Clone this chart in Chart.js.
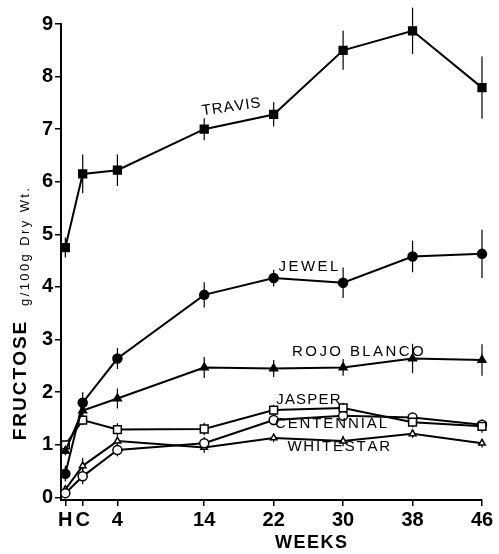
<!DOCTYPE html>
<html>
<head>
<meta charset="utf-8">
<script src="https://cdn.jsdelivr.net/npm/chart.js@4.4.1/dist/chart.umd.min.js"></script>
<style>
  html, body { margin: 0; padding: 0; background: #fff; }
</style>
</head>
<body>
<canvas id="fructose-chart" width="499" height="554"></canvas>
<script>
// sampling times: H = harvest, C = after curing, then weeks of storage
const weeks = [-2, 0, 4, 14, 22, 30, 38, 46];
const weekLabels = ['H', 'C', '4', '14', '22', '30', '38', '46'];
const yTicks = [0, 1, 2, 3, 4, 5, 6, 7, 8, 9];

const cultivars = ['TRAVIS', 'JEWEL', 'ROJO BLANCO', 'JASPER', 'CENTENNIAL', 'WHITESTAR'];

const travis = [4.75, 6.15, 6.22, 7.0, 7.28, 8.5, 8.87, 7.79];
const travisErr = [0.19, 0.37, 0.3, 0.21, 0.23, 0.37, 0.44, 0.59];

const jewel = [0.45, 1.8, 2.64, 3.85, 4.17, 4.08, 4.58, 4.63];
const jewelErr = [0.15, 0.2, 0.2, 0.24, 0.16, 0.29, 0.3, 0.46];

const rojoBlanco = [0.88, 1.65, 1.88, 2.47, 2.45, 2.47, 2.64, 2.61];
const rojoBlancoErr = [0.08, 0.15, 0.19, 0.2, 0.16, 0.16, 0.28, 0.3];

const jasper = [1.0, 1.47, 1.29, 1.3, 1.66, 1.7, 1.43, 1.35];
const jasperErr = [0.05, 0.1, 0.12, 0.12, 0.1, 0.1, 0.1, 0.12];

const centennial = [0.08, 0.4, 0.9, 1.03, 1.47, 1.55, 1.52, 1.38];
const centennialErr = [0.05, 0.15, 0.12, 0.12, 0.1, 0.1, 0.08, 0.1];

const whitestar = [0.15, 0.6, 1.07, 0.95, 1.13, 1.07, 1.21, 1.03];
const whitestarErr = [0.05, 0.15, 0.1, 0.1, 0.08, 0.1, 0.08, 0.08];

const seriesValues = [travis, jewel, rojoBlanco, jasper, centennial, whitestar];
const seriesErrors = [travisErr, jewelErr, rojoBlancoErr, jasperErr, centennialErr, whitestarErr];

// marker look per cultivar (filled vs open)
const markerStyles = [
    { pointStyle: 'rect', radius: 5.5, fill: '#000' },
    { pointStyle: 'circle', radius: 4.5, fill: '#000' },
    { pointStyle: 'triangle', radius: 4.5, fill: '#000' },
    { pointStyle: 'rect', radius: 5.5, fill: '#fff' },
    { pointStyle: 'circle', radius: 4.5, fill: '#fff' },
    { pointStyle: 'triangle', radius: 3.8, fill: '#fff' },
];

// where each curve name sits, in chart units (week, g/100g), plus letter spacing and tilt
const nameLabels = [
    { week: 17.1, value: 7.42, spacing: 1, angle: -8 },
    { week: 26.0, value: 4.38, spacing: 2.5, angle: 0 },
    { week: 31.7, value: 2.76, spacing: 2.4, angle: 0 },
    { week: 26.0, value: 1.85, spacing: 1.2, angle: 0 },
    { week: 28.6, value: 1.40, spacing: 1.9, angle: 0 },
    { week: 29.5, value: 0.96, spacing: 1.8, angle: 0 },
];

function drawSpaced(ctx, text, cx, cy, spacing) {
    const widths = [...text].map(ch => ctx.measureText(ch).width);
    const total = widths.reduce((a, b) => a + b, 0) + spacing * (text.length - 1);
    let x = cx - total / 2;
    ctx.textAlign = 'left';
    ctx.textBaseline = 'middle';
    [...text].forEach((ch, i) => {
        ctx.fillText(ch, x, cy);
        x += widths[i] + spacing;
    });
}

// vertical error bars, drawn under the markers
const errorBars = {
    id: 'errorBars',
    beforeDatasetsDraw(chart) {
        const ctx = chart.ctx;
        const xs = chart.scales.x;
        const ys = chart.scales.y;
        ctx.save();
        ctx.strokeStyle = '#000';
        ctx.lineWidth = 1.2;
        seriesValues.forEach((vals, s) => {
            vals.forEach((v, i) => {
                const e = seriesErrors[s][i];
                const px = xs.getPixelForValue(weeks[i]);
                ctx.beginPath();
                ctx.moveTo(px, ys.getPixelForValue(v - e));
                ctx.lineTo(px, ys.getPixelForValue(v + e));
                ctx.stroke();
            });
        });
        ctx.restore();
    }
};

// curve names and axis titles
const annotations = {
    id: 'annotations',
    afterDatasetsDraw(chart) {
        const ctx = chart.ctx;
        const xs = chart.scales.x;
        const ys = chart.scales.y;
        ctx.save();
        ctx.fillStyle = '#000';
        ctx.font = '15px "Liberation Sans", Arial, sans-serif';
        cultivars.forEach((name, i) => {
            const lab = nameLabels[i];
            const cx = xs.getPixelForValue(lab.week);
            const cy = ys.getPixelForValue(lab.value);
            ctx.save();
            ctx.translate(cx, cy);
            ctx.rotate(lab.angle * Math.PI / 180);
            drawSpaced(ctx, name, 0, 0, lab.spacing);
            ctx.restore();
        });

        // y title: bold word plus small units, reading upwards
        ctx.save();
        ctx.translate(21, 381);
        ctx.rotate(-Math.PI / 2);
        ctx.font = 'bold 19px "Liberation Sans", Arial, sans-serif';
        drawSpaced(ctx, 'FRUCTOSE', 0, 0, 2);
        ctx.restore();

        ctx.save();
        ctx.translate(25, 247);
        ctx.rotate(-Math.PI / 2);
        ctx.font = '13px "Liberation Sans", Arial, sans-serif';
        drawSpaced(ctx, 'g/100g Dry Wt.', 0, 0, 2.4);
        ctx.restore();

        // x title
        ctx.font = 'bold 18px "Liberation Sans", Arial, sans-serif';
        drawSpaced(ctx, 'WEEKS', 311, 543, 1.5);
        ctx.restore();
    }
};

const datasets = cultivars.map((name, s) => ({
    label: name,
    data: weeks.map((w, i) => ({ x: w, y: seriesValues[s][i] })),
    borderColor: '#000',
    borderWidth: 2,
    pointStyle: markerStyles[s].pointStyle,
    pointRadius: markerStyles[s].radius,
    pointBackgroundColor: markerStyles[s].fill,
    pointBorderColor: '#000',
    pointBorderWidth: 1.5,
    tension: 0,
    fill: false,
    clip: false,
}));

const tickFont = { family: '"Liberation Sans", Arial, sans-serif', size: 20, weight: 'bold' };

new Chart(document.getElementById('fructose-chart'), {
    type: 'line',
    data: { datasets },
    options: {
        responsive: false,
        animation: false,
        layout: { padding: { top: 24, right: 17, bottom: 0, left: 0 } },
        plugins: {
            legend: { display: false },
            tooltip: { enabled: false },
        },
        scales: {
            x: {
                type: 'linear',
                min: -2.5,
                max: 46,
                afterBuildTicks: scale => { scale.ticks = weeks.map(v => ({ value: v })); },
                afterFit: scale => { scale.height = 54; },
                ticks: {
                    autoSkip: false,
                    maxRotation: 0,
                    padding: 2,
                    color: '#000',
                    font: tickFont,
                    callback: v => weekLabels[weeks.indexOf(v)],
                },
                grid: {
                    drawOnChartArea: false,
                    tickLength: 6,
                    color: '#000',
                    lineWidth: 1.5,
                },
                border: { color: '#000', width: 2 },
            },
            y: {
                min: -0.05,
                max: 9,
                afterBuildTicks: scale => { scale.ticks = yTicks.map(v => ({ value: v })); },
                afterFit: scale => { scale.width = 61; },
                ticks: {
                    padding: 2,
                    color: '#000',
                    font: tickFont,
                },
                grid: {
                    drawOnChartArea: false,
                    tickLength: 6,
                    color: '#000',
                    lineWidth: 1.5,
                },
                border: { color: '#000', width: 2 },
            },
        },
    },
    plugins: [errorBars, annotations],
});
</script>
</body>
</html>
